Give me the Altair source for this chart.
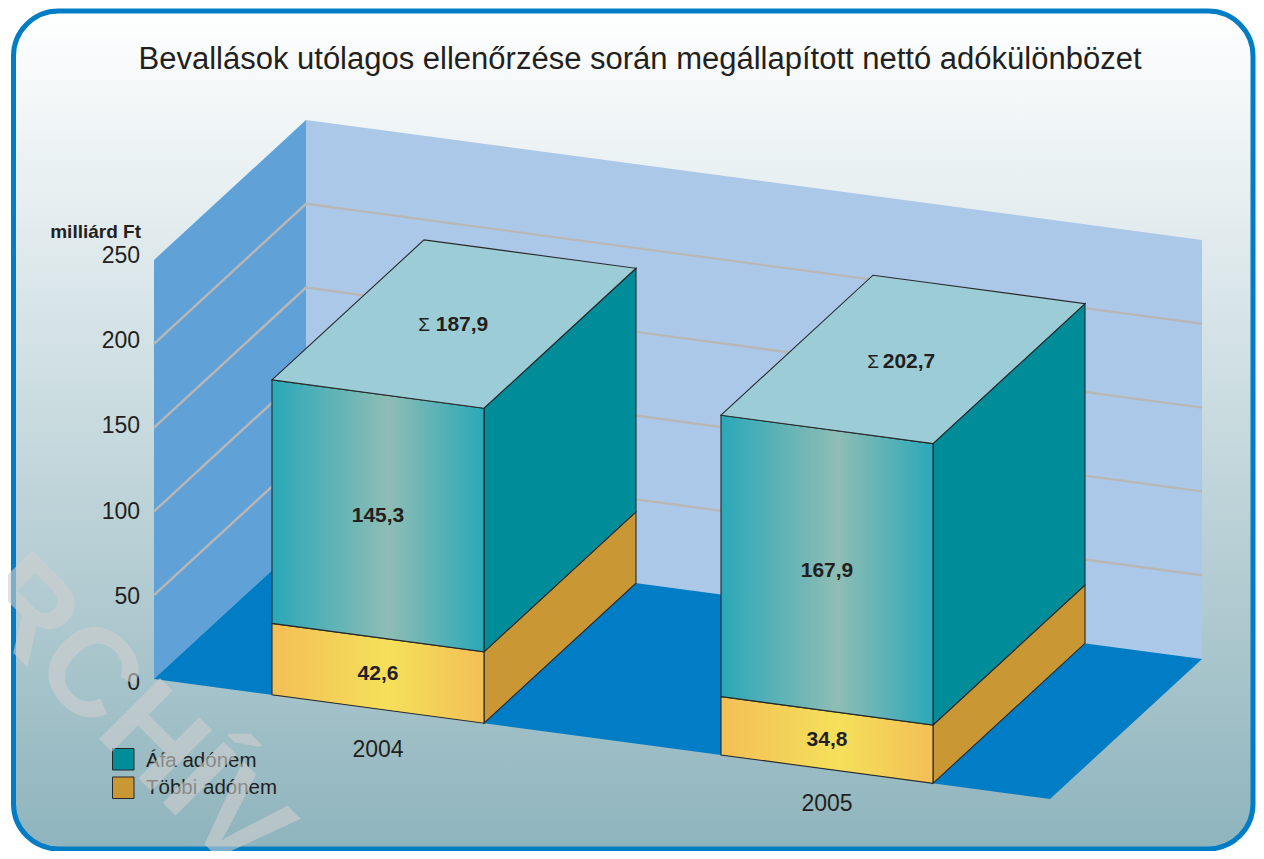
import altair as alt
import pandas as pd

# ---- values ----
years = ["2004", "2005"]
other_tax = [42.6, 34.8]
vat_tax = [145.3, 167.9]
totals = [187.9, 202.7]
other_labels = ["42,6", "34,8"]
vat_labels = ["145,3", "167,9"]
total_labels = ["187,9", "202,7"]
axis_ticks = [0, 50, 100, 150, 200, 250]
grid_values = [50, 100, 150, 200]
legend_names = ["Áfa adónem", "Többi adónem"]
title_text = "Bevallások utólagos ellenőrzése során megállapított nettó adókülönbözet"
unit_text = "milliárd Ft"
stamp_text = "ARCHÍV"

# ---- oblique projection of the 3D scene ----
ORIGIN = (154.0, 679.0)
FLOOR_LEN = 896.0
SLOPE = 120.0 / 896.0
DEPTH = (152.0, -140.0)
PER_UNIT = 1.676
BAR_START = [118.0, 567.0]
BAR_W = 212.0
PLOT_W, PLOT_H = 1248, 843


def proj(u, v, d=0.0):
    return (ORIGIN[0] + u + d * DEPTH[0],
            ORIGIN[1] + u * SLOPE - v * PER_UNIT + d * DEPTH[1])


def rows(poly):
    """Turn a convex polygon into x / y / y2 rows for an area mark."""
    xs = sorted({round(p[0], 3) for p in poly})
    n = len(poly)
    out = []
    for x in xs:
        hits = []
        for i in range(n):
            a, b = poly[i], poly[(i + 1) % n]
            lo, hi = min(a[0], b[0]), max(a[0], b[0])
            if lo - 1e-3 <= x <= hi + 1e-3:
                if abs(a[0] - b[0]) < 1e-3:
                    hits += [a[1], b[1]]
                else:
                    hits.append(a[1] + (b[1] - a[1]) * (x - a[0]) / (b[0] - a[0]))
        out.append({"x": x, "y": min(hits), "y2": max(hits)})
    return pd.DataFrame(out)


X = alt.X("x:Q", scale=alt.Scale(domain=[8, 8 + PLOT_W], nice=False, zero=False), axis=None)
Y = alt.Y("y:Q", scale=alt.Scale(domain=[8 + PLOT_H, 8], nice=False, zero=False), axis=None)


def face(poly, fill, stroke=None):
    kw = {"clip": True}
    if stroke:
        kw.update(stroke=stroke, strokeWidth=1.1)
    return alt.Chart(rows(poly)).mark_area(color=fill, opacity=1, **kw).encode(
        x=X, y=Y, y2=alt.Y2("y2:Q"))


def grad(stops, vertical=False):
    return alt.LinearGradient(
        gradient="linear", x1=0, x2=0 if vertical else 1, y1=0, y2=1 if vertical else 0,
        stops=[alt.GradientStop(color=c, offset=o) for c, o in stops])


def hgrad(a, b):
    return grad([(a, 0), (b, 0.55), (a, 1)])


def label(x, y, text, size=21, weight="bold", align="center", color="#231f20",
          font="Liberation Sans", **kw):
    df = pd.DataFrame({"x": [x], "y": [y], "t": [text]})
    return alt.Chart(df).mark_text(
        font=font, fontSize=size, fontWeight=weight, align=align,
        baseline="middle", color=color, **kw).encode(x=X, y=Y, text="t:N")


LINE = "#26292b"
layers = []

# panel
panel = pd.DataFrame({"x": [13.5], "x2": [1253], "y": [11], "y2": [849]})
layers.append(alt.Chart(panel).mark_rect(
    clip=True, cornerRadius=45, stroke="#007dc5", strokeWidth=5,
    fill=grad([("#ffffff", 0), ("#8fb4bd", 1)], vertical=True)
).encode(x=X, x2="x2:Q", y=Y, y2="y2:Q"))

# walls and floor
layers.append(face([proj(0, 0), proj(0, 250), proj(0, 250, 1), proj(0, 0, 1)], "#60a2d8"))
layers.append(face([proj(0, 0, 1), proj(0, 250, 1), proj(FLOOR_LEN, 250, 1), proj(FLOOR_LEN, 0, 1)], "#abc8e9"))
layers.append(face([proj(0, 0), proj(0, 0, 1), proj(FLOOR_LEN, 0, 1), proj(FLOOR_LEN, 0)], "#007dc5"))

# grid lines
grid_rows = []
for g in grid_values:
    for i, (u, d) in enumerate([(0, 0), (0, 1), (FLOOR_LEN, 1)]):
        px, py = proj(u, g, d)
        grid_rows.append({"x": px, "y": py, "g": g, "o": i})
layers.append(alt.Chart(pd.DataFrame(grid_rows)).mark_line(
    color="#b9b7b6", strokeWidth=2.4).encode(x=X, y=Y, detail="g:N", order="o:Q"))

# bars
for i in range(len(years)):
    u0, u1 = BAR_START[i], BAR_START[i] + BAR_W
    v0, v1 = other_tax[i], other_tax[i] + vat_tax[i]
    layers.append(face([proj(u1, 0), proj(u1, v0), proj(u1, v0, 1), proj(u1, 0, 1)], "#c99733", LINE))
    layers.append(face([proj(u1, v0), proj(u1, v1), proj(u1, v1, 1), proj(u1, v0, 1)], "#008c99", LINE))
    layers.append(face([proj(u0, 0), proj(u0, v0), proj(u1, v0), proj(u1, 0)], hgrad("#f3bf56", "#f5e05a"), LINE))
    layers.append(face([proj(u0, v0), proj(u0, v1), proj(u1, v1), proj(u1, v0)], hgrad("#2aa8b8", "#8fbdb5"), LINE))
    layers.append(face([proj(u0, v1), proj(u0, v1, 1), proj(u1, v1, 1), proj(u1, v1)], "#9ccdd6", LINE))

    uc = (u0 + u1) / 2
    px, py = proj(uc, other_tax[i] / 2)
    layers.append(label(px, py + 0.5, other_labels[i]))
    px, py = proj(uc, other_tax[i] + vat_tax[i] / 2)
    layers.append(label(px, py + 0.5, vat_labels[i]))
    px, py = proj(uc, totals[i], 0.5)
    layers.append(label(px + [8, 6][i], py + [1, 3][i], total_labels[i]))
    layers.append(label(px - 30, py + [1, 3][i], "Σ", size=19, weight="normal"))
    px, py = proj(uc, 0)
    layers.append(label(px, py + [41, 35][i], years[i], size=23, weight="normal"))

# value axis labels
for t in axis_ticks:
    layers.append(label(140, 682.5 - t * 1.708, str(t), size=23, weight="normal", align="right"))
layers.append(label(141, 232, unit_text, size=19, align="right"))

# legend
legend_rects = pd.DataFrame({"x": [112.5, 112.5], "x2": [134, 134], "y": [748.5, 777],
                             "y2": [770, 798.5], "c": ["#008c99", "#c99733"]})
layers.append(alt.Chart(legend_rects).mark_rect(stroke=LINE, strokeWidth=1).encode(
    x=X, x2="x2:Q", y=Y, y2="y2:Q", color=alt.Color("c:N", scale=None, legend=None)))
layers.append(label(146, 761, legend_names[0], size=20.5, weight="normal", align="left"))
layers.append(label(146, 788, legend_names[1], size=20.5, weight="normal", align="left"))

# title
layers.append(label(640, 60, title_text, size=31, weight="normal"))

# stamp across the lower left
layers.append(label(98, 684, stamp_text, size=125, weight="bold", color="#cfcfcf",
                    angle=45, opacity=0.6))

chart = alt.layer(*layers).properties(
    width=PLOT_W, height=PLOT_H, padding=0, background="white",
    autosize=alt.AutoSizeParams(type="none")
).configure_view(stroke=None)

chart.save("out.html", embed_options={"renderer": "svg", "actions": False})
